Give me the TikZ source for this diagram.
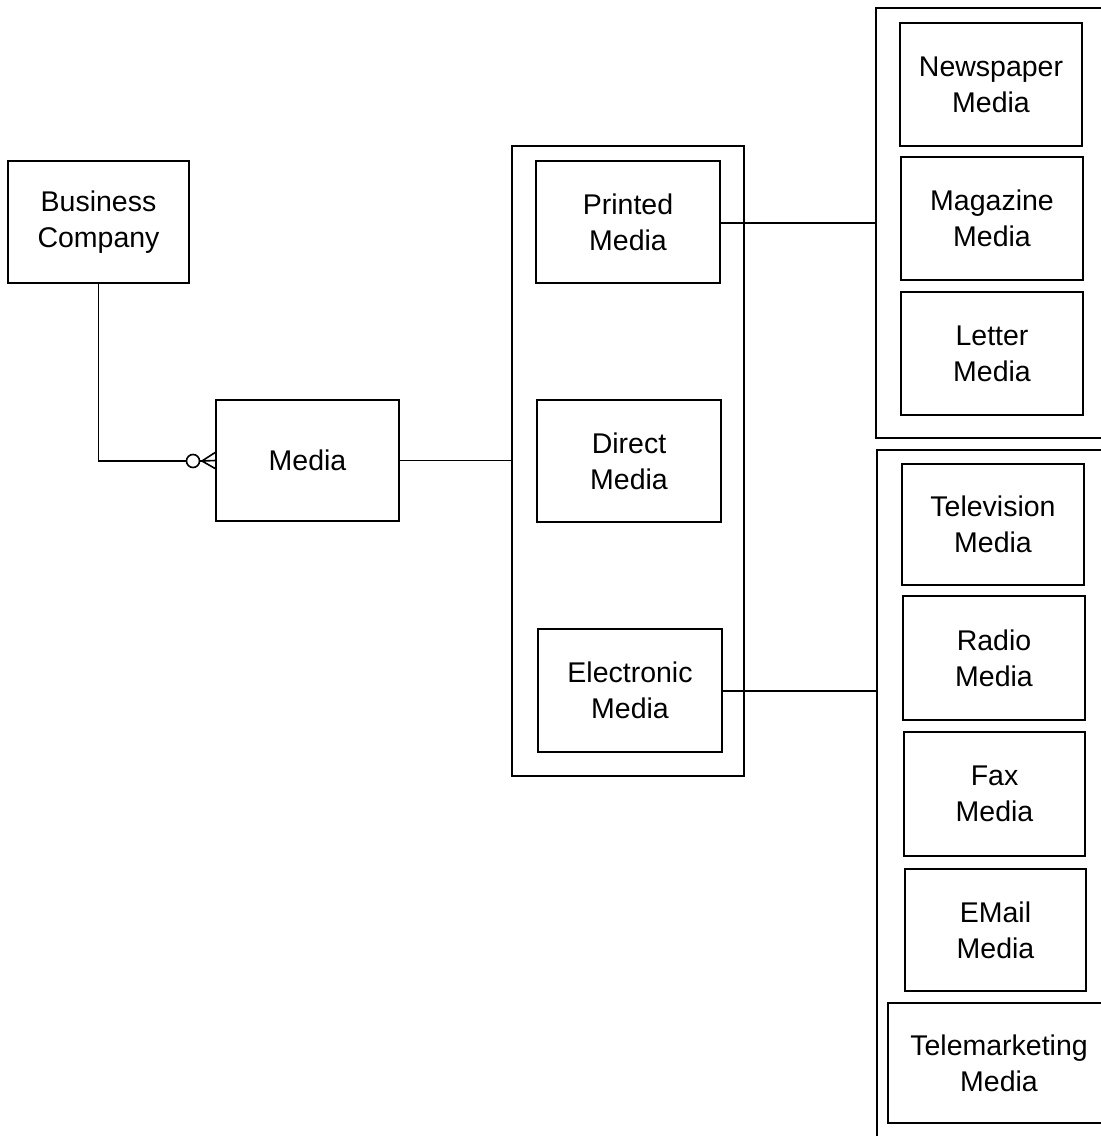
\documentclass[tikz,border=0pt]{standalone}
\usepackage{fontspec}
\setmainfont{Liberation Sans}
\begin{document}
\begin{tikzpicture}[x=1pt,y=-1pt,
  ent/.style={draw, line width=1.8pt, align=center, inner sep=0pt,
    font=\fontsize{28.5}{36}\selectfont},
  frame/.style={draw, line width=1.8pt},
  link/.style={draw, line width=1.6pt}]
\useasboundingbox (0,0) rectangle (1101,1136);
\clip (0,0) rectangle (1101,1136);
\fill[white] (0,0) rectangle (1101,1136);

% helper for boxes given by corners
\newcommand{\entbox}[6]{%
  \node[ent, minimum width={#4-#2}, minimum height={#5-#3}]
    (#1) at ({(#2+#4)/2},{(#3+#5)/2}) {#6};}

% left side
\entbox{bc}{8}{161}{189}{283}{Business\\Company}
\entbox{media}{216}{400}{399}{521}{Media}

% middle group
\node[frame, minimum width=232, minimum height=630, inner sep=0pt] (mid) at (628,461) {};
\entbox{printed}{536}{161}{720}{283}{Printed\\Media}
\entbox{direct}{537}{400}{721}{522}{Direct\\Media}
\entbox{electronic}{538}{629}{722}{752}{Electronic\\Media}

% right groups (run past the right edge)
\node[frame, minimum width=260, minimum height=430, inner sep=0pt] (printgrp) at (1006,223) {};
\entbox{newspaper}{900}{23}{1082}{146}{Newspaper\\Media}
\entbox{magazine}{901}{157}{1083}{280}{Magazine\\Media}
\entbox{letter}{901}{292}{1083}{415}{Letter\\Media}

\node[frame, minimum width=260, minimum height=720, inner sep=0pt] (elecgrp) at (1007,810) {};
\entbox{television}{902}{464}{1084}{585}{Television\\Media}
\entbox{radio}{903}{596}{1085}{720}{Radio\\Media}
\entbox{fax}{904}{732}{1085}{856}{Fax\\Media}
\entbox{email}{905}{869}{1086}{991}{EMail\\Media}
\entbox{telemarketing}{888}{1003}{1110}{1123}{Telemarketing\\Media}

% relationship Business Company -> Media (zero or many)
\coordinate (cf) at (202,461);
\path[link] (bc.south) |- (cf);
\draw[line width=1.6pt, fill=white] (193,461) circle (6.5);
\draw[line width=1.6pt] (cf) -- (media.west)
  (cf) -- ([yshift=-8]media.west)
  (cf) -- ([yshift=8]media.west);

% subtype links
\path[link] (media.east) -- (media.east -| mid.west);
\path[link] ([yshift=-1]printed.east) -- ([yshift=-1]printed.east -| printgrp.west);
\path[link] ([yshift=-0.5]electronic.east) -- ([yshift=-0.5]electronic.east -| elecgrp.west);
\end{tikzpicture}
\end{document}
